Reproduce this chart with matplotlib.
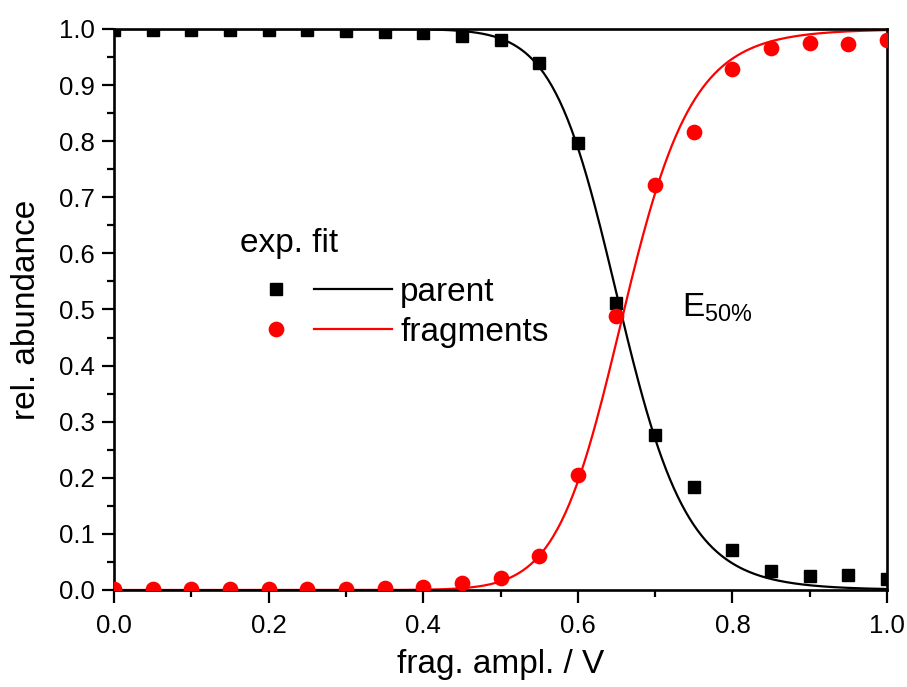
import matplotlib
matplotlib.use("Agg")
import matplotlib.pyplot as plt
import numpy as np
from matplotlib.legend_handler import HandlerTuple
from matplotlib.ticker import MultipleLocator

plt.rcParams['font.family'] = ['Liberation Sans', 'DejaVu Sans']
plt.rcParams['mathtext.fontset'] = 'custom'
plt.rcParams['mathtext.rm'] = 'Liberation Sans'

# measured relative abundances vs. fragmentation amplitude
ampl = [0.00, 0.05, 0.10, 0.15, 0.20, 0.25, 0.30, 0.35, 0.40, 0.45, 0.50,
        0.55, 0.60, 0.65, 0.70, 0.75, 0.80, 0.85, 0.90, 0.95, 1.00]
parent = [0.998, 0.998, 0.998, 0.998, 0.998, 0.998, 0.997, 0.995, 0.993, 0.988, 0.980,
          0.940, 0.796, 0.512, 0.277, 0.184, 0.072, 0.034, 0.025, 0.026, 0.020]
fragments = [0.001, 0.001, 0.001, 0.001, 0.001, 0.001, 0.002, 0.004, 0.006, 0.012, 0.021,
             0.060, 0.205, 0.488, 0.722, 0.817, 0.928, 0.967, 0.975, 0.974, 0.980]

# sigmoidal fit parameters (centre, steepness)
parent_x0, parent_p = 0.655, 15.0
frag_x0, frag_p = 0.660, 15.0


def sigmoid_down(x, x0, p):
    return 1.0 / (1.0 + (x / x0) ** p)


def main():
    fig = plt.figure(figsize=(9.07, 6.87), dpi=100)
    ax = fig.add_axes([0.1257, 0.1412, 0.8523, 0.8166])

    xf = np.linspace(0, 1, 400)
    lp, = ax.plot(xf, sigmoid_down(xf, parent_x0, parent_p), color='black', lw=1.6, zorder=2)
    lf, = ax.plot(xf, 1 - sigmoid_down(xf, frag_x0, frag_p), color='red', lw=1.6, zorder=2)
    sp, = ax.plot(ampl, parent, 's', color='black', ms=9.1, ls='none', zorder=3)
    sf, = ax.plot(ampl, fragments, 'o', color='red', ms=10.3, ls='none', zorder=3)

    ax.set_xlim(0, 1)
    ax.set_ylim(0, 1)
    ax.xaxis.set_major_locator(MultipleLocator(0.2))
    ax.xaxis.set_minor_locator(MultipleLocator(0.1))
    ax.yaxis.set_major_locator(MultipleLocator(0.1))
    ax.yaxis.set_minor_locator(MultipleLocator(0.05))
    ax.xaxis.set_major_formatter(lambda v, pos: f"{v:.1f}")
    ax.yaxis.set_major_formatter(lambda v, pos: f"{v:.1f}")

    ax.tick_params(which='major', direction='out', length=9, width=1.6, labelsize=18.5, pad=5)
    ax.tick_params(which='minor', direction='out', length=5, width=1.6)
    ax.tick_params(axis='x', pad=8)
    for s in ax.spines.values():
        s.set_linewidth(1.9)

    ax.set_xlabel("frag. ampl. / V", fontsize=24, labelpad=8)
    ax.set_ylabel("rel. abundance", fontsize=24, labelpad=12)

    ax.text(0.735, 0.488, r"E$_{\mathrm{50\%}}$", fontsize=24, ha='left', va='baseline')

    # legend header: symbol column = exp., line column = fit
    ax.text(0.163, 0.6185, "exp. fit", fontsize=24, ha='left', va='center', transform=ax.transAxes)
    ax.legend([(sp, lp), (sf, lf)], ["parent", "fragments"],
              handler_map={tuple: HandlerTuple(ndivide=None, pad=0.0)},
              fontsize=24, frameon=False, loc='upper left', bbox_to_anchor=(0.159, 0.558),
              handlelength=4.65, handletextpad=0.25, labelspacing=0.27,
              borderaxespad=0, borderpad=0)

    fig.savefig("out.png", dpi=100)


if __name__ == "__main__":
    main()
